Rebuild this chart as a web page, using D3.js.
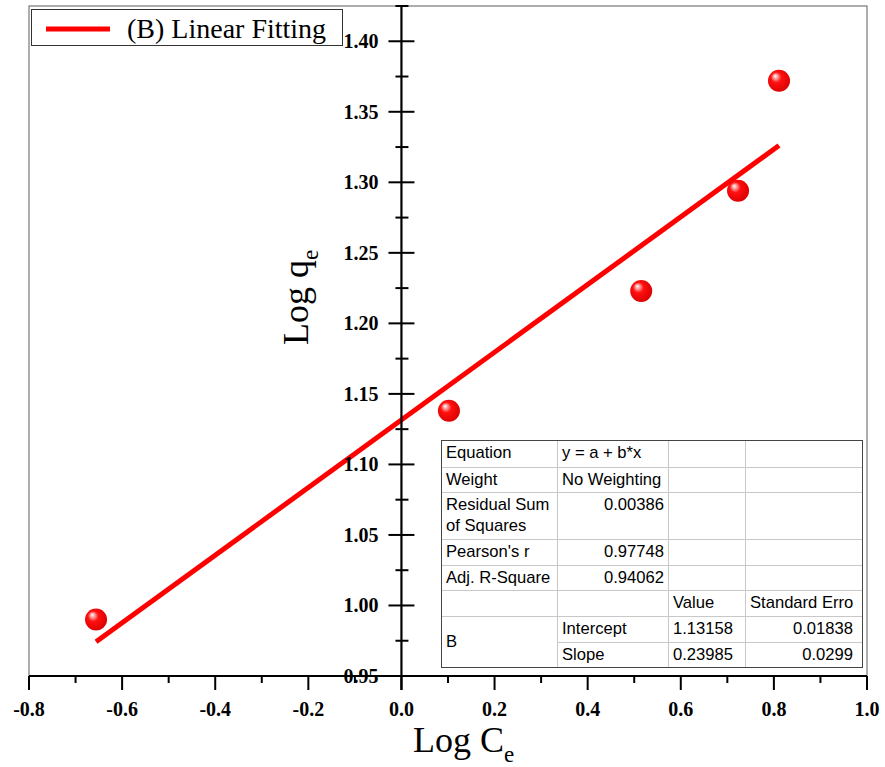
<!DOCTYPE html>
<html>
<head>
<meta charset="utf-8">
<script src="https://cdn.jsdelivr.net/npm/d3@7"></script>
<style>
  body { margin: 0; background: #fff; }
  svg { display: block; }
</style>
</head>
<body>
<div id="chart"></div>
<script>
// data
const logC = [-0.656, 0.102, 0.515, 0.723, 0.811];
const logQ = [0.990, 1.138, 1.223, 1.294, 1.372];
const fitIntercept = 1.13158;
const fitSlope = 0.23985;
const xTicks = [-0.8, -0.6, -0.4, -0.2, 0.0, 0.2, 0.4, 0.6, 0.8, 1.0];
const yTicks = [0.95, 1.0, 1.05, 1.1, 1.15, 1.2, 1.25, 1.3, 1.35, 1.4];
const legendLabel = "(B) Linear Fitting";
// fit report table (rows of cells)
const tableRows = [
  ["Equation", "y = a + b*x", "", ""],
  ["Weight", "No Weighting", "", ""],
  ["Residual Sum\nof Squares", "0.00386", "", ""],
  ["Pearson's r", "0.97748", "", ""],
  ["Adj. R-Square", "0.94062", "", ""],
  ["", "", "Value", "Standard Erro"],
  ["B", "Intercept", "1.13158", "0.01838"],
  ["", "Slope", "0.23985", "0.0299"]
];

const width = 885, height = 767;
const serif = "'Liberation Serif', 'Times New Roman', serif";
const sans = "'Liberation Sans', Arial, sans-serif";

const x = d3.scaleLinear().domain([-0.8, 1.0]).range([29, 867]);
const y = d3.scaleLinear().domain([0.95, 1.425]).range([676, 6]);

const svg = d3.select("#chart")
  .append("svg")
  .attr("width", width)
  .attr("height", height);

const defs = svg.append("defs");
const grad = defs.append("radialGradient")
  .attr("id", "ball")
  .attr("cx", "0.45").attr("cy", "0.45").attr("r", "0.6")
  .attr("fx", "0.32").attr("fy", "0.28");
grad.append("stop").attr("offset", "0%").attr("stop-color", "#ffffff");
grad.append("stop").attr("offset", "14%").attr("stop-color", "#ffb0b0");
grad.append("stop").attr("offset", "40%").attr("stop-color", "#ff1010");
grad.append("stop").attr("offset", "100%").attr("stop-color", "#d80000");

// frame
svg.append("rect")
  .attr("x", x.range()[0]).attr("y", y.range()[1])
  .attr("width", x.range()[1] - x.range()[0])
  .attr("height", y.range()[0] - y.range()[1])
  .attr("fill", "none")
  .attr("stroke", "#777")
  .attr("stroke-width", 1.2);

// fit line
const x0 = d3.min(logC), x1 = d3.max(logC);
svg.append("line")
  .attr("x1", x(x0)).attr("y1", y(fitIntercept + fitSlope * x0))
  .attr("x2", x(x1)).attr("y2", y(fitIntercept + fitSlope * x1))
  .attr("stroke", "#ff0000")
  .attr("stroke-width", 5);

const fmt = f => d => d3.format(f)(d).replace("\u2212", "-");

// y axis at x = 0
const yAxis = svg.append("g").attr("transform", `translate(${x(0)},0)`);
yAxis.append("line")
  .attr("y1", y.range()[1] - 1).attr("y2", y.range()[0] + 14)
  .attr("stroke", "#000").attr("stroke-width", 2.2);
const yMinor = d3.range(0.975, 1.43, 0.05);
yAxis.selectAll(".ymin").data(yMinor).join("line")
  .attr("x1", -6).attr("x2", 7)
  .attr("y1", d => y(d)).attr("y2", d => y(d))
  .attr("stroke", "#000").attr("stroke-width", 2);
yAxis.selectAll(".ymaj").data(yTicks).join("line")
  .attr("x1", -13).attr("x2", 13)
  .attr("y1", d => y(d)).attr("y2", d => y(d))
  .attr("stroke", "#000").attr("stroke-width", 2);
yAxis.selectAll("text").data(yTicks).join("text")
  .attr("x", -23).attr("y", d => y(d))
  .attr("dy", "0.35em")
  .attr("text-anchor", "end")
  .attr("font-family", serif).attr("font-weight", "bold").attr("font-size", 20)
  .text(fmt(".2f"));

// x axis at y = 0.95
const xAxis = svg.append("g").attr("transform", `translate(0,${y(0.95)})`);
xAxis.append("line")
  .attr("x1", x.range()[0]).attr("x2", x.range()[1])
  .attr("stroke", "#000").attr("stroke-width", 2.2);
const xMinor = d3.range(-0.7, 1.0, 0.2);
xAxis.selectAll(".xmin").data(xMinor).join("line")
  .attr("x1", d => x(d)).attr("x2", d => x(d))
  .attr("y1", 0).attr("y2", 7)
  .attr("stroke", "#000").attr("stroke-width", 2);
xAxis.selectAll(".xmaj").data(xTicks).join("line")
  .attr("x1", d => x(d)).attr("x2", d => x(d))
  .attr("y1", 0).attr("y2", 14)
  .attr("stroke", "#000").attr("stroke-width", 2);
xAxis.selectAll("text").data(xTicks).join("text")
  .attr("x", d => x(d)).attr("y", 40)
  .attr("text-anchor", "middle")
  .attr("font-family", serif).attr("font-weight", "bold").attr("font-size", 20)
  .text(fmt(".1f"));

// axis titles
const xt = svg.append("text")
  .attr("x", 413).attr("y", 752)
  .attr("font-family", serif).attr("font-size", 36);
xt.append("tspan").text("Log C");
xt.append("tspan").attr("font-size", 23).attr("dy", 10).text("e");

const yt = svg.append("text")
  .attr("transform", "translate(308,345) rotate(-90)")
  .attr("font-family", serif).attr("font-size", 36);
yt.append("tspan").text("Log q");
yt.append("tspan").attr("font-size", 23).attr("dy", 10).text("e");

// points
svg.append("g")
  .selectAll("circle")
  .data(logC.map((c, i) => [c, logQ[i]]))
  .join("circle")
  .attr("cx", d => x(d[0]))
  .attr("cy", d => y(d[1]))
  .attr("r", 11)
  .attr("fill", "url(#ball)");

// legend
const legend = svg.append("g");
legend.append("rect")
  .attr("x", 31.5).attr("y", 9.5).attr("width", 311).attr("height", 36)
  .attr("fill", "#fff").attr("stroke", "#333").attr("stroke-width", 1);
legend.append("line")
  .attr("x1", 46).attr("x2", 110).attr("y1", 29).attr("y2", 29)
  .attr("stroke", "#ff0000").attr("stroke-width", 5);
legend.append("text")
  .attr("x", 127).attr("y", 38)
  .attr("font-family", serif).attr("font-size", 28)
  .text(legendLabel);

// fit report table
const colX = [441, 557, 668, 745, 862];
const rowY = [440, 467, 492, 539, 565, 590, 616, 642, 667];
const table = svg.append("g").attr("font-family", sans).attr("font-size", 16.6).attr("fill", "#000");
table.append("rect")
  .attr("x", colX[0]).attr("y", rowY[0])
  .attr("width", colX[4] - colX[0]).attr("height", rowY[8] - rowY[0])
  .attr("fill", "#fff");
// horizontal grid lines
rowY.slice(1, -1).forEach((ry, i) => {
  const startX = i === 6 ? colX[1] : colX[0];
  table.append("line")
    .attr("x1", startX).attr("x2", colX[4])
    .attr("y1", ry + 0.5).attr("y2", ry + 0.5)
    .attr("stroke", "#c8c8c8");
});
colX.slice(1, -1).forEach(cx => {
  table.append("line")
    .attr("x1", cx + 0.5).attr("x2", cx + 0.5)
    .attr("y1", rowY[0]).attr("y2", rowY[8])
    .attr("stroke", "#c8c8c8");
});
table.append("rect")
  .attr("x", colX[0] + 0.5).attr("y", rowY[0] + 0.5)
  .attr("width", colX[4] - colX[0]).attr("height", rowY[8] - rowY[0])
  .attr("fill", "none").attr("stroke", "#444").attr("stroke-width", 1);

const clip = defs.append("clipPath").attr("id", "tclip");
clip.append("rect")
  .attr("x", colX[0]).attr("y", rowY[0])
  .attr("width", colX[4] - colX[0] - 7).attr("height", rowY[8] - rowY[0]);

tableRows.forEach((row, r) => {
  row.forEach((cell, c) => {
    if (!cell) return;
    const numeric = /^[0-9.]+$/.test(cell);
    const rightAlign = numeric && (c === 1 || c === 3);
    let top = rowY[r];
    if (r === 6 && c === 0) top = (rowY[6] + rowY[8]) / 2 - 13;
    const t = table.append("text")
      .attr("clip-path", "url(#tclip)")
      .attr("text-anchor", rightAlign ? "end" : "start");
    const tx = rightAlign ? colX[c + 1] - 4 - (c === 3 ? 5 : 0) : colX[c] + 5;
    cell.split("\n").forEach((ln, k) => {
      t.append("tspan").attr("x", tx).attr("y", top + 18 + k * 21).text(ln);
    });
  });
});
</script>
</body>
</html>
